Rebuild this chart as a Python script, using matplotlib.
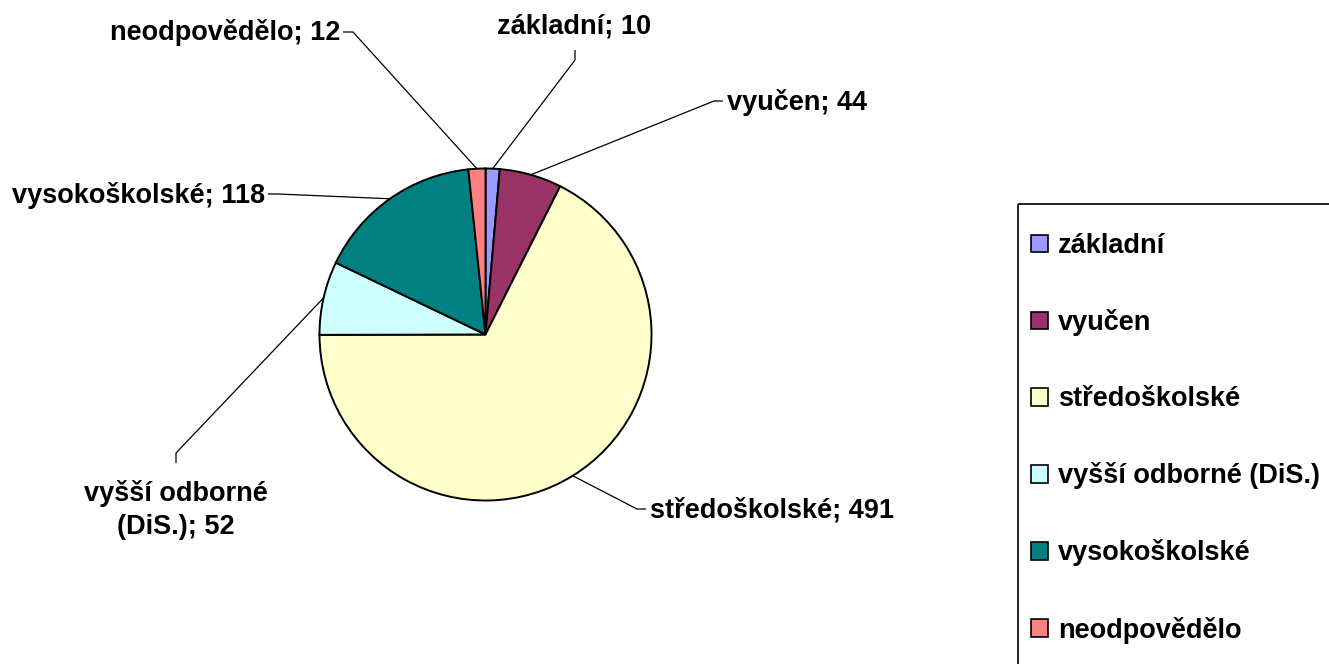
import numpy as np
import matplotlib
matplotlib.use("Agg")
import matplotlib.pyplot as plt
from matplotlib.patches import Rectangle

plt.rcParams['font.family'] = ['Liberation Sans', 'DejaVu Sans']
plt.rcParams['font.weight'] = 'bold'

# data
categories = ['základní', 'vyučen', 'středoškolské', 'vyšší odborné (DiS.)',
              'vysokoškolské', 'neodpovědělo']
label_names = ['základní', 'vyučen', 'středoškolské', 'vyšší odborné\n(DiS.)',
               'vysokoškolské', 'neodpovědělo']
counts = [10, 44, 491, 52, 118, 12]
colors = ['#9999FF', '#993366', '#FFFFCC', '#CCFFFF', '#008080', '#FF8080']

W, H = 1329, 664
FS = 19.5


def py(y):
    # pixel row (from top) -> data y
    return H - y


fig = plt.figure(figsize=(W / 100, H / 100), dpi=100)
ax = fig.add_axes([0, 0, 1, 1])

wedges, _ = ax.pie(counts, colors=colors, startangle=90, counterclock=False,
                   center=(485.5, py(334.5)), radius=166,
                   wedgeprops=dict(edgecolor='black', linewidth=1.4))
ax.set_xlim(0, W)
ax.set_ylim(0, H)
ax.set_aspect('auto')
ax.axis('off')

# label layout: end of leader (at text), elbow, text anchor, alignment
layout = [
    dict(end=(575, 50), elbow=(575, 60), xy=(574, 34), ha='center', va='baseline'),
    dict(end=(723, 101), elbow=(714, 101), xy=(727, 110), ha='left', va='baseline'),
    dict(end=(646, 509), elbow=(637, 509), xy=(650, 518), ha='left', va='baseline'),
    dict(end=(176, 463), elbow=(176, 453), xy=(176, 510), ha='center', va='center'),
    dict(end=(268, 194), elbow=(278, 194), xy=(265, 203), ha='right', va='baseline'),
    dict(end=(343, 32), elbow=(353, 32), xy=(340, 40), ha='right', va='baseline'),
]

for w, name, n, lay in zip(wedges, label_names, counts, layout):
    mid = np.deg2rad((w.theta1 + w.theta2) / 2)
    ax_x = w.center[0] + w.r * np.cos(mid)
    ax_y = w.center[1] + w.r * np.sin(mid)
    ex, ey = lay['end']
    bx, by = lay['elbow']
    ax.plot([ax_x, bx, ex], [ax_y, py(by), py(ey)], color='black', lw=0.9,
            solid_capstyle='butt')
    ax.text(lay['xy'][0], py(lay['xy'][1]), f'{name}; {n}', ha=lay['ha'],
            va=lay['va'], fontsize=FS, fontweight='bold', linespacing=1.38)

# legend
ax.add_patch(Rectangle((1018, py(204)), 400, -(H), facecolor='none',
                       edgecolor='black', lw=1.2, clip_on=False))
leg = ax.legend(wedges, categories, loc='upper left',
                bbox_to_anchor=(1031 / W, 1 - 233 / H),
                frameon=False, fontsize=FS, borderpad=0, borderaxespad=0,
                handlelength=0.63, handleheight=0.63, handletextpad=0.36,
                labelspacing=1.85)
for h in leg.legend_handles:
    h.set_edgecolor('black')
    h.set_linewidth(1.2)

fig.savefig('out.png', dpi=100)
